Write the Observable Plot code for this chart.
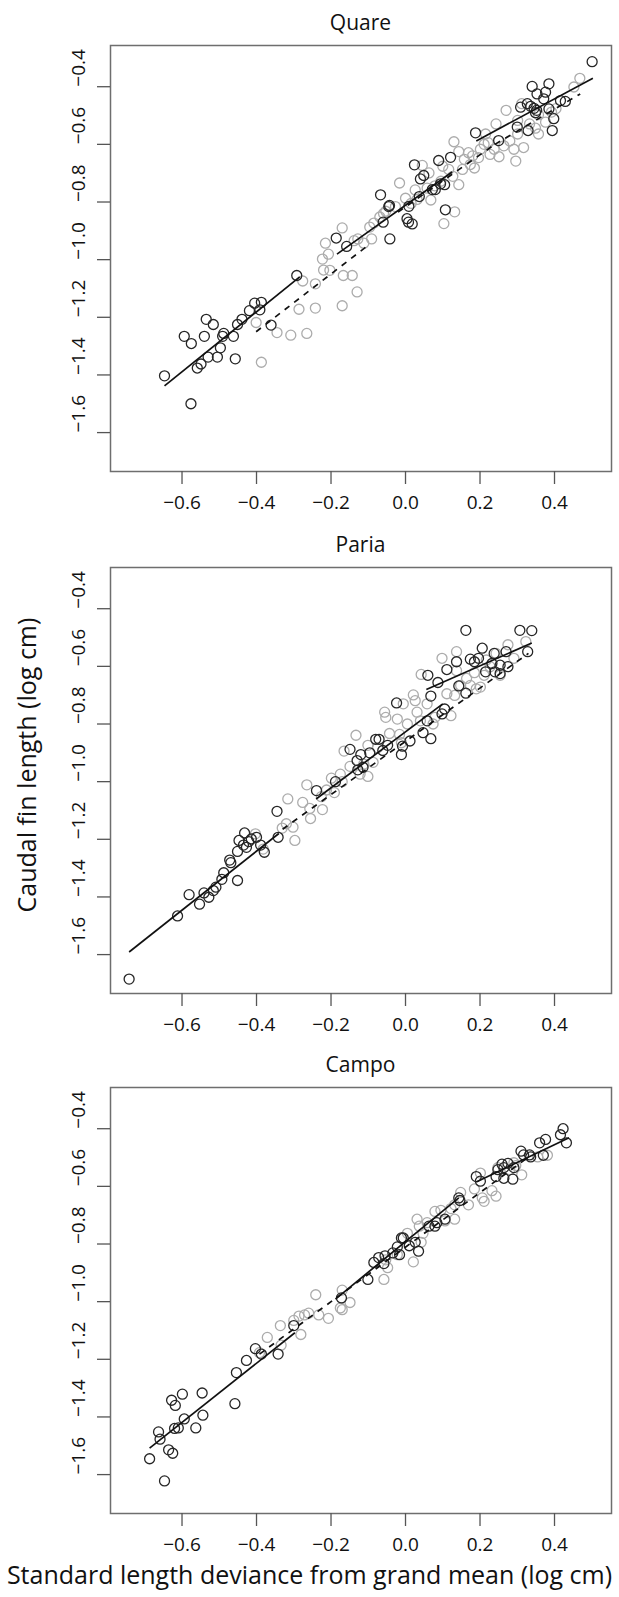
<!DOCTYPE html>
<html>
<head>
<meta charset="utf-8">
<script src="https://cdn.jsdelivr.net/npm/d3@7"></script>
<script src="https://cdn.jsdelivr.net/npm/@observablehq/plot@0.6"></script>
<style>
  body { margin: 0; background: #fff; }
  #root { position: relative; width: 619px; height: 1597px; font-family: "Open Sans", sans-serif; color: #111; overflow: hidden; }
  .panel { position: absolute; left: 0; }
  .ptitle { position: absolute; left: 110px; width: 501px; text-align: center; font-size: 21px; line-height: 1; }
  .xtitle { position: absolute; left: 0; width: 619px; text-align: center; font-size: 25px; line-height: 1; white-space: nowrap; }
  .ytitle { position: absolute; font-size: 25px; line-height: 1; white-space: nowrap; transform: translate(-50%, -50%) rotate(-90deg); }
</style>
</head>
<body>
<div id="root"></div>
<script>
// ---------- data ----------
const panelNames = ["Quare", "Paria", "Campo"];
const xTicks = [-0.6, -0.4, -0.2, 0.0, 0.2, 0.4];
const yTicks = [-0.4, -0.6, -0.8, -1.0, -1.2, -1.4, -1.6];
const xDomain = [-0.792, 0.553];
const yDomain = [-1.735, -0.257];
const xTitle = "Standard length deviance from grand mean (log cm)";
const yTitle = "Caudal fin length (log cm)";

// Quare
const quareDark = [
  [-0.647,-1.403],[-0.576,-1.500],[-0.594,-1.266],[-0.575,-1.291],[-0.535,-1.207],[-0.516,-1.225],
  [-0.540,-1.266],[-0.559,-1.376],[-0.549,-1.362],[-0.530,-1.338],[-0.505,-1.338],[-0.497,-1.306],
  [-0.488,-1.256],[-0.491,-1.266],[-0.462,-1.266],[-0.457,-1.344],[-0.451,-1.225],[-0.439,-1.207],
  [-0.419,-1.177],[-0.405,-1.151],[-0.387,-1.148],[-0.391,-1.174],[-0.361,-1.227],[-0.292,-1.055],
  [-0.186,-0.925],[-0.158,-0.954],[-0.067,-0.775],[-0.045,-0.816],[-0.043,-0.812],[-0.042,-0.928],
  [-0.060,-0.870],[0.004,-0.858],[0.008,-0.870],[0.018,-0.876],[0.009,-0.815],[0.024,-0.671],
  [0.037,-0.781],[0.040,-0.720],[0.049,-0.708],[0.072,-0.757],[0.080,-0.757],[0.089,-0.656],
  [0.094,-0.737],[0.105,-0.740],[0.107,-0.827],[0.121,-0.645],[0.188,-0.560],[0.250,-0.587],
  [0.300,-0.540],[0.309,-0.471],[0.327,-0.459],[0.329,-0.552],[0.340,-0.399],[0.336,-0.468],
  [0.345,-0.475],[0.349,-0.490],[0.352,-0.482],[0.353,-0.425],[0.371,-0.442],[0.376,-0.419],
  [0.385,-0.390],[0.385,-0.477],[0.398,-0.511],[0.394,-0.552],[0.416,-0.448],[0.429,-0.451],
  [0.501,-0.313]
];
const quareLight = [
  [-0.387,-1.356],[-0.401,-1.218],[-0.345,-1.253],[-0.308,-1.262],[-0.265,-1.256],[-0.286,-1.172],
  [-0.276,-1.074],[-0.242,-1.168],[-0.242,-1.084],[-0.220,-1.036],[-0.223,-0.998],[-0.215,-0.943],
  [-0.203,-1.037],[-0.170,-1.160],[-0.167,-1.055],[-0.143,-1.055],[-0.130,-1.112],[-0.170,-0.890],
  [-0.138,-0.934],[-0.112,-0.943],[-0.091,-0.928],[-0.085,-0.873],[-0.069,-0.852],[-0.059,-0.840],
  [-0.016,-0.734],[-0.027,-0.816],[0.015,-0.805],[0.026,-0.758],[0.045,-0.673],[0.031,-0.791],
  [0.058,-0.752],[0.079,-0.744],[0.095,-0.728],[0.103,-0.875],[0.132,-0.834],[0.116,-0.687],
  [0.130,-0.591],[0.143,-0.740],[0.127,-0.711],[0.143,-0.625],[0.158,-0.652],[0.153,-0.687],
  [0.169,-0.629],[0.174,-0.670],[0.185,-0.682],[0.196,-0.646],[0.201,-0.617],[0.215,-0.564],
  [0.227,-0.635],[0.243,-0.529],[0.238,-0.617],[0.251,-0.643],[0.264,-0.605],[0.270,-0.482],
  [0.280,-0.588],[0.291,-0.617],[0.296,-0.658],[0.301,-0.564],[0.317,-0.611],[0.312,-0.459],
  [0.333,-0.529],[0.349,-0.544],[0.357,-0.564],[0.376,-0.523],[0.392,-0.488],[0.404,-0.476],
  [0.452,-0.401],[0.468,-0.371],[0.357,-0.497],[0.301,-0.517],[0.222,-0.594],[0.211,-0.600],
  [0.180,-0.640],[0.100,-0.676],[0.063,-0.699],[0.068,-0.793],[0.000,-0.787],[-0.053,-0.832],
  [-0.096,-0.887],[-0.128,-0.928],[-0.207,-0.981]
];
const quareSolid = [
  [-0.647,-1.438,-0.284,-1.060],
  [-0.184,-0.981,0.125,-0.696],
  [0.190,-0.588,0.503,-0.371]
];
const quareDashed = [
  [-0.401,-1.250,-0.095,-0.945],
  [-0.020,-0.835,0.240,-0.600],
  [0.240,-0.600,0.469,-0.425]
];

// Paria
const pariaDark = [
  [-0.742,-1.685],[-0.612,-1.466],[-0.581,-1.392],[-0.553,-1.425],[-0.541,-1.386],[-0.528,-1.401],
  [-0.516,-1.378],[-0.509,-1.366],[-0.493,-1.339],[-0.488,-1.316],[-0.472,-1.272],[-0.469,-1.281],
  [-0.451,-1.343],[-0.451,-1.242],[-0.447,-1.204],[-0.435,-1.220],[-0.432,-1.178],[-0.427,-1.228],
  [-0.421,-1.208],[-0.414,-1.199],[-0.400,-1.193],[-0.389,-1.220],[-0.379,-1.245],[-0.342,-1.193],
  [-0.345,-1.103],[-0.239,-1.031],[-0.188,-1.000],[-0.149,-0.888],[-0.130,-0.927],[-0.120,-0.906],
  [-0.114,-0.950],[-0.128,-0.959],[-0.096,-0.900],[-0.080,-0.853],[-0.071,-0.853],[-0.061,-0.892],
  [-0.048,-0.874],[-0.024,-0.727],[-0.011,-0.906],[-0.008,-0.877],[0.012,-0.859],[0.047,-0.830],
  [0.058,-0.789],[0.060,-0.631],[0.068,-0.703],[0.068,-0.851],[0.087,-0.656],[0.098,-0.765],
  [0.105,-0.748],[0.111,-0.611],[0.137,-0.584],[0.143,-0.668],[0.162,-0.475],[0.162,-0.693],
  [0.174,-0.575],[0.185,-0.584],[0.196,-0.572],[0.206,-0.537],[0.232,-0.590],[0.238,-0.555],
  [0.240,-0.619],[0.254,-0.596],[0.270,-0.549],[0.275,-0.601],[0.307,-0.475],[0.328,-0.549],
  [0.339,-0.476],[0.254,-0.625],[0.215,-0.619]
];
const pariaLight = [
  [-0.403,-1.181],[-0.382,-1.234],[-0.331,-1.161],[-0.320,-1.146],[-0.302,-1.158],[-0.297,-1.204],
  [-0.316,-1.060],[-0.276,-1.072],[-0.265,-1.011],[-0.257,-1.093],[-0.255,-1.128],[-0.223,-1.097],
  [-0.226,-1.052],[-0.212,-1.029],[-0.199,-0.988],[-0.191,-1.038],[-0.175,-0.974],[-0.165,-0.894],
  [-0.149,-0.947],[-0.133,-0.839],[-0.122,-0.974],[-0.101,-0.982],[-0.112,-0.939],[-0.087,-0.933],
  [-0.101,-0.874],[-0.075,-0.882],[-0.056,-0.759],[-0.053,-0.777],[-0.043,-0.833],[-0.022,-0.783],
  [-0.016,-0.836],[-0.006,-0.730],[0.005,-0.800],[0.021,-0.699],[0.026,-0.719],[0.031,-0.759],
  [0.042,-0.628],[0.040,-0.789],[0.058,-0.730],[0.074,-0.800],[0.079,-0.777],[0.098,-0.572],
  [0.111,-0.695],[0.122,-0.771],[0.132,-0.701],[0.137,-0.615],[0.137,-0.549],[0.148,-0.666],
  [0.164,-0.642],[0.174,-0.666],[0.185,-0.622],[0.190,-0.678],[0.201,-0.672],[0.211,-0.631],
  [0.227,-0.601],[0.243,-0.555],[0.254,-0.631],[0.275,-0.525],[0.291,-0.572],[0.323,-0.514],
  [0.217,-0.578],[-0.011,-0.865],[-0.170,-1.000]
];
const pariaSolid = [
  [-0.742,-1.591,-0.340,-1.180],
  [-0.240,-1.060,0.100,-0.730],
  [0.056,-0.680,0.339,-0.519]
];
const pariaDashed = [
  [-0.330,-1.165,0.330,-0.555]
];

// Campo
const campoDark = [
  [-0.687,-1.545],[-0.647,-1.622],[-0.663,-1.452],[-0.659,-1.477],[-0.636,-1.514],[-0.625,-1.526],
  [-0.628,-1.342],[-0.618,-1.360],[-0.620,-1.440],[-0.610,-1.438],[-0.599,-1.321],[-0.594,-1.407],
  [-0.563,-1.438],[-0.546,-1.317],[-0.544,-1.394],[-0.458,-1.354],[-0.454,-1.246],[-0.427,-1.204],
  [-0.403,-1.163],[-0.387,-1.182],[-0.342,-1.182],[-0.300,-1.083],[-0.172,-0.987],[-0.101,-0.923],
  [-0.085,-0.864],[-0.072,-0.847],[-0.055,-0.841],[-0.058,-0.868],[-0.034,-0.831],[-0.022,-0.810],
  [-0.016,-0.837],[-0.011,-0.779],[-0.006,-0.779],[0.010,-0.806],[0.026,-0.794],[0.035,-0.825],
  [0.063,-0.738],[0.079,-0.738],[0.084,-0.726],[0.106,-0.714],[0.143,-0.640],[0.146,-0.649],
  [0.190,-0.566],[0.201,-0.582],[0.243,-0.566],[0.259,-0.523],[0.264,-0.572],[0.275,-0.520],
  [0.288,-0.575],[0.310,-0.478],[0.317,-0.491],[0.333,-0.491],[0.336,-0.498],[0.360,-0.449],
  [0.370,-0.492],[0.376,-0.437],[0.416,-0.421],[0.423,-0.400],[0.432,-0.449],[0.291,-0.535],
  [0.264,-0.535],[0.248,-0.542]
];
const campoLight = [
  [-0.392,-1.177],[-0.371,-1.124],[-0.336,-1.083],[-0.334,-1.151],[-0.300,-1.065],[-0.286,-1.050],
  [-0.281,-1.114],[-0.271,-1.046],[-0.260,-1.040],[-0.241,-0.976],[-0.233,-1.046],[-0.207,-1.058],
  [-0.175,-1.022],[-0.170,-1.028],[-0.170,-0.960],[-0.149,-1.003],[-0.058,-0.923],[-0.048,-0.882],
  [-0.053,-0.855],[-0.022,-0.837],[0.005,-0.763],[0.021,-0.862],[0.031,-0.714],[0.037,-0.738],
  [0.042,-0.794],[0.047,-0.763],[0.058,-0.726],[0.079,-0.687],[0.095,-0.683],[0.106,-0.720],
  [0.122,-0.677],[0.132,-0.714],[0.132,-0.664],[0.148,-0.621],[0.169,-0.664],[0.185,-0.609],
  [0.201,-0.554],[0.206,-0.640],[0.211,-0.652],[0.232,-0.615],[0.243,-0.634],[0.248,-0.535],
  [0.280,-0.542],[0.296,-0.528],[0.312,-0.560],[0.355,-0.498],[0.381,-0.492],[0.291,-0.518]
];
const campoSolid = [
  [-0.687,-1.508,-0.297,-1.108],
  [-0.188,-0.991,0.143,-0.640],
  [0.190,-0.585,0.439,-0.431]
];
const campoDashed = [
  [-0.392,-1.182,0.323,-0.505]
];

// ---------- layout ----------
const W = 619;
const boxLeft = 110, boxRight = 611, boxH = 426;
const panelTops = [45, 567, 1087];
const mt = 5, mb = 52;

const panels = [
  {dark: quareDark, light: quareLight, solid: quareSolid, dashed: quareDashed},
  {dark: pariaDark, light: pariaLight, solid: pariaSolid, dashed: pariaDashed},
  {dark: campoDark, light: campoLight, solid: campoSolid, dashed: campoDashed}
];

const fmt = d3.format(".1f");
const root = document.getElementById("root");

panels.forEach((p, i) => {
  const chart = Plot.plot({
    width: W,
    height: mt + boxH + mb,
    marginLeft: boxLeft,
    marginRight: W - boxRight,
    marginTop: mt,
    marginBottom: mb,
    style: {fontFamily: "Open Sans, sans-serif", fontSize: "19px", color: "#111", background: "transparent", overflow: "visible"},
    x: {domain: xDomain, label: null},
    y: {domain: yDomain, label: null},
    marks: [
      Plot.dot(p.light, {x: d => d[0], y: d => d[1], r: 5, stroke: "#acacac", strokeWidth: 1.3, fill: "none"}),
      Plot.dot(p.dark, {x: d => d[0], y: d => d[1], r: 5, stroke: "#262626", strokeWidth: 1.3, fill: "none"}),
      Plot.link(p.solid, {x1: d => d[0], y1: d => d[1], x2: d => d[2], y2: d => d[3], stroke: "#111", strokeWidth: 1.7}),
      Plot.link(p.dashed, {x1: d => d[0], y1: d => d[1], x2: d => d[2], y2: d => d[3], stroke: "#111", strokeWidth: 1.7, strokeDasharray: "6,6"}),
      Plot.frame({stroke: "#6e6e6e", strokeWidth: 1.5}),
      Plot.axisX({ticks: xTicks, tickSize: 13, tickPadding: 11, tickFormat: fmt, stroke: "#555", strokeWidth: 1.3, fontSize: 19, fill: "#111", label: null}),
      Plot.axisY({ticks: yTicks, tickSize: 13, tickFormat: () => "", stroke: "#555", strokeWidth: 1.3, label: null}),
      Plot.text(yTicks, {y: d => d, frameAnchor: "left", dx: -32, rotate: -90, text: d => fmt(d), fontSize: 19, fill: "#111"})
    ]
  });
  const wrap = document.createElement("div");
  wrap.className = "panel";
  wrap.style.top = (panelTops[i] - mt) + "px";
  wrap.appendChild(chart);
  root.appendChild(wrap);

  const t = document.createElement("div");
  t.className = "ptitle";
  t.textContent = panelNames[i];
  t.style.top = (panelTops[i] - 33) + "px";
  root.appendChild(t);
});

const xt = document.createElement("div");
xt.className = "xtitle";
xt.textContent = xTitle;
xt.style.top = "1562px";
root.appendChild(xt);

const yt = document.createElement("div");
yt.className = "ytitle";
yt.textContent = yTitle;
yt.style.left = "26px";
yt.style.top = "765px";
root.appendChild(yt);
</script>
</body>
</html>
